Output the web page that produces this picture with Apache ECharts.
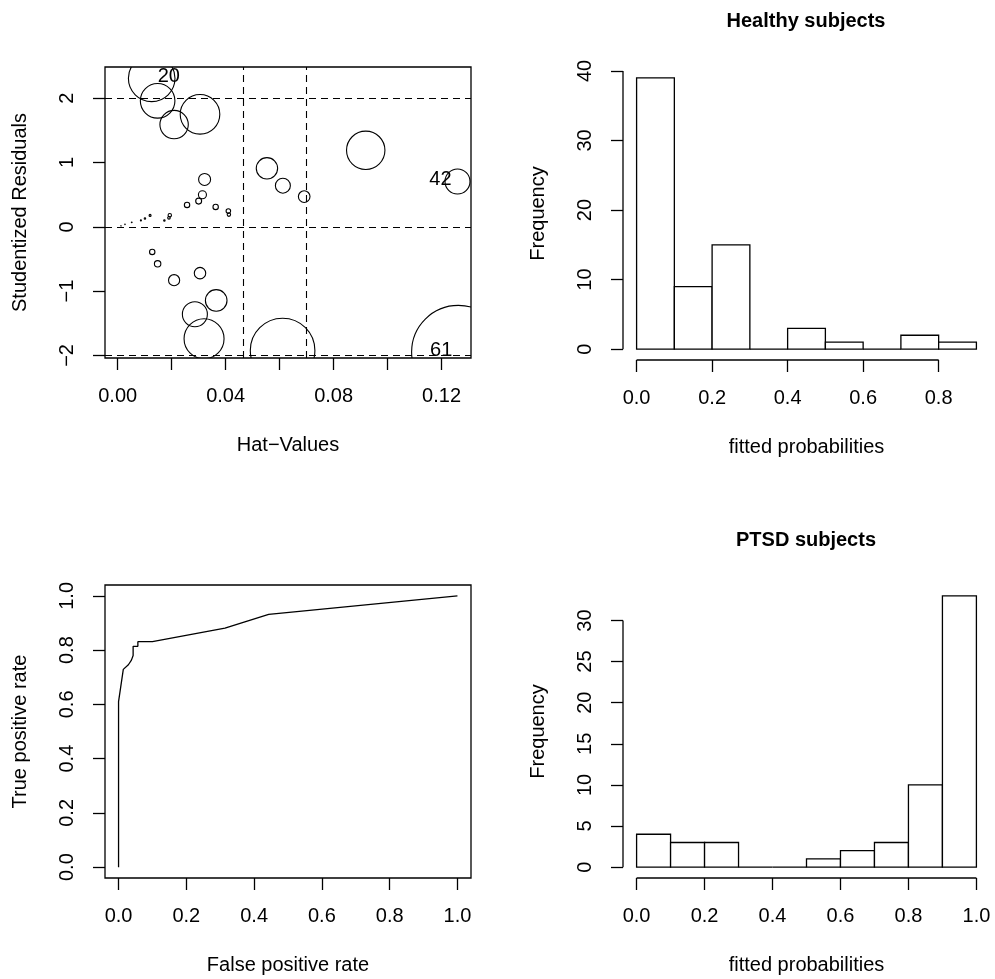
<!DOCTYPE html>
<html>
<head>
<meta charset="utf-8">
<script src="https://cdn.jsdelivr.net/npm/echarts@6/dist/echarts.min.js"></script>
<style>
  html, body { margin: 0; padding: 0; background: #fff; }
  #main { width: 995px; height: 979px; }
</style>
</head>
<body>
<div id="main"></div>
<script>
// ---- influence plot (hat values vs studentized residuals, bubble ~ Cook's D)
const hatValues = [0.0126, 0.0148, 0.0209, 0.0305, 0.0919, 0.0553, 0.0612, 0.0691, 0.1259,
  0.0322, 0.0314, 0.0300, 0.0257, 0.0363, 0.0410, 0.0412, 0.0193, 0.0190, 0.0173, 0.0120,
  0.0101, 0.0086, 0.0052, 0.0027, 0.0012,
  0.0128, 0.0148, 0.0209, 0.0305, 0.0365, 0.0286, 0.0320, 0.0611, 0.1262];
const studRes = [2.31, 1.96, 1.59, 1.75, 1.19, 0.91, 0.64, 0.47, 0.706,
  0.737, 0.50, 0.40, 0.34, 0.31, 0.245, 0.19, 0.18, 0.14, 0.10, 0.178,
  0.13, 0.10, 0.07, 0.04, 0.015,
  -0.39, -0.575, -0.83, -0.72, -1.145, -1.36, -1.74, -1.924, -1.948];
const cookD = [0.1045, 0.0576, 0.0388, 0.0755, 0.0710, 0.0220, 0.0108, 0.0065, 0.0301,
  0.0069, 0.0031, 0.0017, 0.0014, 0.0014, 0.0010, 0.00056, 0.00056, 0.00033, 0.0001, 0.00019,
  0.0001, 0.00005, 0.00003, 0.00002, 0.00001,
  0.0014, 0.0020, 0.0060, 0.0063, 0.0225, 0.0301, 0.0770, 0.2009, 0.4200];
const pointIds = ['20', '', '', '', '', '', '', '', '42',
  '', '', '', '', '', '', '', '', '', '', '',
  '', '', '', '', '',
  '', '', '', '', '', '', '', '', '61'];
const nObs = 86;
const nCoef = 2;

// ---- ROC curve
const fpr = [0, 0, 0.014, 0.029, 0.038, 0.043, 0.043, 0.057, 0.057, 0.100, 0.314, 0.443, 1.0];
const tpr = [0, 0.610, 0.729, 0.746, 0.763, 0.780, 0.814, 0.814, 0.831, 0.831, 0.881, 0.932, 1.0];

// ---- histograms of fitted probabilities
const binEdges = [0, 0.1, 0.2, 0.3, 0.4, 0.5, 0.6, 0.7, 0.8, 0.9, 1.0];
const healthyCounts = [39, 9, 15, 0, 3, 1, 0, 2, 1];
const ptsdCounts = [4, 3, 3, 0, 0, 1, 2, 3, 10, 33];

// tick positions / labels
const hatTicks = [0, 0.02, 0.04, 0.06, 0.08, 0.10, 0.12];
const hatLabels = [0, 0.04, 0.08, 0.12];
const residTicks = [-2, -1, 0, 1, 2];
const rateTicks = [0, 0.2, 0.4, 0.6, 0.8, 1.0];
const healthyXTicks = [0, 0.2, 0.4, 0.6, 0.8];
const healthyYTicks = [0, 10, 20, 30, 40];
const ptsdXTicks = [0, 0.2, 0.4, 0.6, 0.8, 1.0];
const ptsdYTicks = [0, 5, 10, 15, 20, 25, 30];

const FONT = '"Liberation Sans", Arial, Helvetica, sans-serif';
const INK = '#000';
const LW = 1.3;
const FS = 20;
const MAX_R = 46.7; // radius of the biggest bubble in px

// R-like 4% range extension
function ext(lo, hi) {
  const d = (hi - lo) * 0.04;
  return [lo - d, hi + d];
}
const minus = (s) => s.replace('-', '\u2212');

const healthyX = ext(0, binEdges[healthyCounts.length]);
const healthyY = ext(0, Math.max(...healthyCounts));
const ptsdX = ext(0, binEdges[ptsdCounts.length]);
const ptsdY = ext(0, Math.max(...ptsdCounts));
const rateLim = ext(0, 1);

function mkAxis(gi, lim, ticks, labels, fmt, name, isY) {
  return {
    type: 'value', gridIndex: gi, min: lim[0], max: lim[1],
    name: name, nameLocation: 'middle', nameGap: isY ? 75 : 77,
    nameTextStyle: { fontFamily: FONT, fontSize: FS, color: INK },
    axisLine: { show: false, onZero: false },
    splitLine: { show: false },
    axisTick: { show: true, length: 12, customValues: ticks, lineStyle: { color: INK, width: LW } },
    axisLabel: {
      customValues: labels, formatter: fmt, fontFamily: FONT, fontSize: FS, color: INK,
      margin: 28, rotate: isY ? 90 : 0, hideOverlap: false
    }
  };
}

const fmt1 = (v) => v.toFixed(1);
const fmt2 = (v) => v.toFixed(2);
const fmtInt = (v) => minus(String(Math.round(v)));

function histSeries(gi, counts) {
  const rows = counts.map((c, i) => [binEdges[i], binEdges[i + 1], c]);
  return {
    type: 'custom', xAxisIndex: gi, yAxisIndex: gi, clip: false, silent: true,
    data: rows, encode: { x: [0, 1], y: 2 },
    renderItem: function (params, api) {
      const p0 = api.coord([api.value(0), api.value(2)]);
      const p1 = api.coord([api.value(1), 0]);
      return {
        type: 'rect',
        shape: { x: p0[0], y: p0[1], width: p1[0] - p0[0], height: p1[1] - p0[1] },
        style: { fill: '#fff', stroke: INK, lineWidth: LW }
      };
    }
  };
}

function segment(gi, pts) {
  return {
    type: 'line', xAxisIndex: gi, yAxisIndex: gi, data: pts, symbol: 'none',
    clip: false, silent: true, lineStyle: { color: INK, width: LW }
  };
}

const meanHat = nCoef / nObs;
const bubbleRows = hatValues.map((h, i) => [h, studRes[i], cookD[i]]);
const maxCook = Math.max(...cookD);

const chart = echarts.init(document.getElementById('main'));
chart.setOption({
  animation: false,
  backgroundColor: '#fff',
  title: [
    { text: 'Healthy subjects', left: 806, top: 11, textAlign: 'center', padding: 0,
      textStyle: { fontFamily: FONT, fontSize: FS, fontWeight: 'bold', color: INK } },
    { text: 'PTSD subjects', left: 806, top: 530, textAlign: 'center', padding: 0,
      textStyle: { fontFamily: FONT, fontSize: FS, fontWeight: 'bold', color: INK } }
  ],
  grid: [
    { left: 105, top: 67, width: 366, height: 291, show: true, borderColor: INK, borderWidth: LW, backgroundColor: 'transparent' },
    { left: 623, top: 67, width: 367, height: 293 },
    { left: 105, top: 585, width: 366, height: 293, show: true, borderColor: INK, borderWidth: LW, backgroundColor: 'transparent' },
    { left: 623, top: 585, width: 367, height: 293 }
  ],
  xAxis: [
    mkAxis(0, [-0.0047, 0.1309], hatTicks, hatLabels, fmt2, 'Hat\u2212Values', false),
    mkAxis(1, healthyX, healthyXTicks, healthyXTicks, fmt1, 'fitted probabilities', false),
    mkAxis(2, rateLim, rateTicks, rateTicks, fmt1, 'False positive rate', false),
    mkAxis(3, ptsdX, ptsdXTicks, ptsdXTicks, fmt1, 'fitted probabilities', false)
  ],
  yAxis: [
    mkAxis(0, [-2.04, 2.486], residTicks, residTicks, fmtInt, 'Studentized Residuals', true),
    mkAxis(1, healthyY, healthyYTicks, healthyYTicks, fmtInt, 'Frequency', true),
    mkAxis(2, rateLim, rateTicks, rateTicks, fmt1, 'True positive rate', true),
    mkAxis(3, ptsdY, ptsdYTicks, ptsdYTicks, fmtInt, 'Frequency', true)
  ],
  series: [
    {
      type: 'custom', xAxisIndex: 0, yAxisIndex: 0, clip: true, silent: true,
      data: bubbleRows, encode: { x: 0, y: 1 },
      renderItem: function (params, api) {
        const c = api.coord([api.value(0), api.value(1)]);
        const r = MAX_R * Math.sqrt(api.value(2) / maxCook);
        const kids = [{
          type: 'circle', shape: { cx: c[0], cy: c[1], r: r },
          style: { fill: 'none', stroke: INK, lineWidth: 1.1 }
        }];
        const lab = pointIds[params.dataIndex];
        if (lab) {
          const right = api.value(0) < meanHat;
          kids.push({
            type: 'text', x: c[0] + (right ? 6 : -6), y: c[1] - 2,
            style: { text: lab, fill: INK, fontFamily: FONT, fontSize: FS,
              align: right ? 'left' : 'right', verticalAlign: 'middle' }
          });
        }
        return { type: 'group', children: kids };
      },
      markLine: {
        silent: true, symbol: 'none', precision: 6, label: { show: false },
        lineStyle: { color: INK, type: [7, 5], width: 1.1 },
        data: [
          { yAxis: -2 }, { yAxis: 0 }, { yAxis: 2 },
          { xAxis: 2 * nCoef / nObs }, { xAxis: 3 * nCoef / nObs }
        ]
      }
    },
    histSeries(1, healthyCounts),
    segment(1, [[healthyXTicks[0], healthyY[0]], [healthyXTicks[healthyXTicks.length - 1], healthyY[0]]]),
    segment(1, [[healthyX[0], healthyYTicks[0]], [healthyX[0], healthyYTicks[healthyYTicks.length - 1]]]),
    {
      type: 'line', xAxisIndex: 2, yAxisIndex: 2, symbol: 'none', silent: true,
      data: fpr.map((f, i) => [f, tpr[i]]),
      lineStyle: { color: INK, width: LW }
    },
    histSeries(3, ptsdCounts),
    segment(3, [[ptsdXTicks[0], ptsdY[0]], [ptsdXTicks[ptsdXTicks.length - 1], ptsdY[0]]]),
    segment(3, [[ptsdX[0], ptsdYTicks[0]], [ptsdX[0], ptsdYTicks[ptsdYTicks.length - 1]]])
  ]
});
</script>
</body>
</html>
